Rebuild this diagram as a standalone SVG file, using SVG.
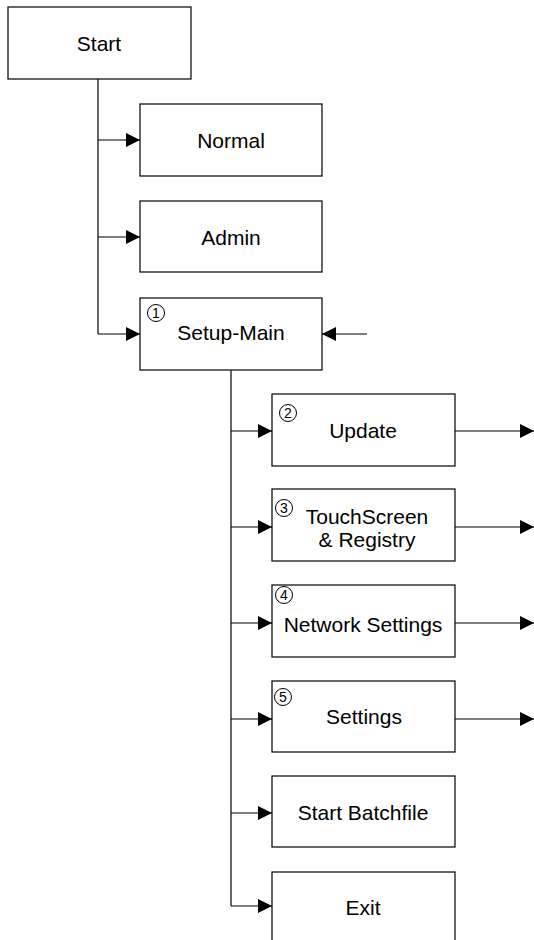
<svg xmlns="http://www.w3.org/2000/svg" width="534" height="940" viewBox="0 0 534 940">
<style>
.box{fill:#fff;stroke:#000;stroke-width:1.2}
.t{font-family:"Liberation Sans",Arial,sans-serif;font-size:21px;fill:#000;text-anchor:middle}
.n{font-family:"Liberation Sans",Arial,sans-serif;font-size:14px;fill:#000;text-anchor:middle}
.c{fill:none;stroke:#000;stroke-width:1}
.ln{fill:none;stroke:#000;stroke-width:1.2}
</style>
<defs>
<marker id="ah" markerWidth="14" markerHeight="14" refX="14" refY="7" orient="auto" markerUnits="userSpaceOnUse">
<path d="M0,0 L14,7 L0,14 Z" fill="#000"/>
</marker>
</defs>
<g id="connectors">
<path class="ln" d="M98,79 V334"/>
<path class="ln" d="M98,140 H140" marker-end="url(#ah)"/>
<path class="ln" d="M98,237 H140" marker-end="url(#ah)"/>
<path class="ln" d="M98,334 H140" marker-end="url(#ah)"/>
<path class="ln" d="M367,334 H322" marker-end="url(#ah)"/>
<path class="ln" d="M231,370 V906"/>
<path class="ln" d="M231,431 H272" marker-end="url(#ah)"/>
<path class="ln" d="M231,527 H272" marker-end="url(#ah)"/>
<path class="ln" d="M231,623 H272" marker-end="url(#ah)"/>
<path class="ln" d="M231,719 H272" marker-end="url(#ah)"/>
<path class="ln" d="M231,813 H272" marker-end="url(#ah)"/>
<path class="ln" d="M231,906 H272" marker-end="url(#ah)"/>
<path class="ln" d="M455,431 H534" marker-end="url(#ah)"/>
<path class="ln" d="M455,527 H534" marker-end="url(#ah)"/>
<path class="ln" d="M455,623 H534" marker-end="url(#ah)"/>
<path class="ln" d="M455,719 H534" marker-end="url(#ah)"/>
</g>
<g id="start"><rect class="box" x="8" y="7" width="183" height="72"/><text class="t" x="99" y="51">Start</text></g>
<g id="normal"><rect class="box" x="140" y="104" width="182" height="72"/><text class="t" x="231" y="148">Normal</text></g>
<g id="admin"><rect class="box" x="140" y="201" width="182" height="71"/><text class="t" x="231" y="245">Admin</text></g>
<g id="setup-main"><rect class="box" x="140" y="298" width="182" height="72"/><circle class="c" cx="156" cy="313" r="8.5"/><text class="n" x="156" y="318">1</text><text class="t" x="231" y="340">Setup-Main</text></g>
<g id="update"><rect class="box" x="272" y="394" width="183" height="72"/><circle class="c" cx="288" cy="413" r="8.5"/><text class="n" x="288" y="418">2</text><text class="t" x="363" y="438">Update</text></g>
<g id="touchscreen"><rect class="box" x="272" y="489" width="183" height="72"/><circle class="c" cx="284" cy="508" r="8.5"/><text class="n" x="284" y="513">3</text><text class="t" x="367" y="524">TouchScreen</text><text class="t" x="367" y="547">&amp; Registry</text></g>
<g id="network"><rect class="box" x="272" y="585" width="183" height="72"/><circle class="c" cx="284" cy="595" r="8.5"/><text class="n" x="284" y="600">4</text><text class="t" x="363" y="632">Network Settings</text></g>
<g id="settings"><rect class="box" x="272" y="681" width="183" height="71"/><circle class="c" cx="283" cy="697" r="8.5"/><text class="n" x="283" y="702">5</text><text class="t" x="364" y="724">Settings</text></g>
<g id="batch"><rect class="box" x="272" y="776" width="183" height="71"/><text class="t" x="363" y="820">Start Batchfile</text></g>
<g id="exit"><rect class="box" x="272" y="872" width="183" height="72"/><text class="t" x="363" y="915">Exit</text></g>
</svg>
